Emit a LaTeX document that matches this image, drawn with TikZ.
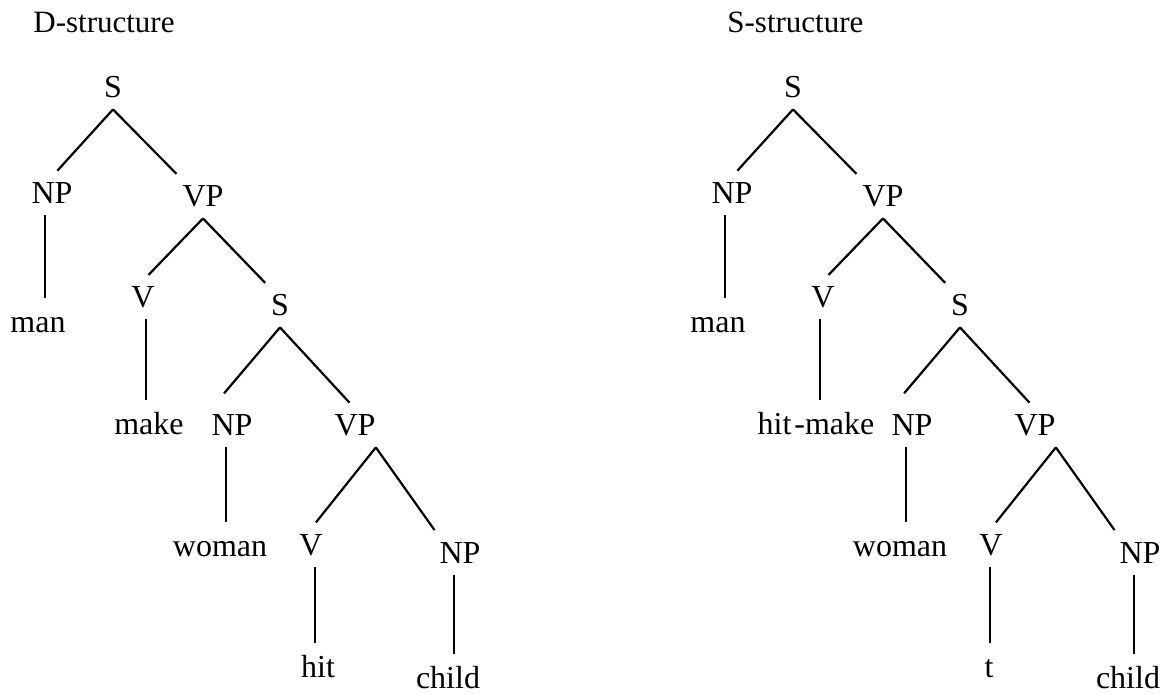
\documentclass[tikz,border=0pt]{standalone}
\usepackage{fontspec}
\setmainfont{Liberation Serif}
\usetikzlibrary{calc}
\tikzstyle{tag}=[anchor=base, inner xsep=0pt, inner ysep=6pt, text height=0.7em, text depth=0pt, font=\fontsize{16}{19}\selectfont]
\tikzstyle{head}=[anchor=base west, inner sep=0pt, font=\fontsize{15.5}{18}\selectfont]
\tikzstyle{branch}=[draw, line width=1.1pt, shorten >=4pt]
\newcommand{\stem}[2]{\draw[branch] let \p1=(#1.south), \p2=(#2.north) in ({0.5*round(\x1+\x2)*1pt},\y1) -- ({0.5*round(\x1+\x2)*1pt},\y2);}
\begin{document}
\begin{tikzpicture}[x=0.5pt, y=-0.5pt]

  \def\dx{680};
  \useasboundingbox (0,0) rectangle (1168,693);

  \node[head] (dhead) at (33,32) {D-structure};
  \node[head] (shead) at (727,32) {S-structure};

  % same categories in both trees
  \foreach \x/\y/\name/\label in {113/97/S0/S, 52/203/NP1/NP, 203/206/VP1/VP, 143/307/V1/V, 280/315/S2/S, 232/435/NP2/NP, 355/435/VP2/VP, 311/555/V2/V, 460/563/NP3/NP} {
    \node[tag] (l\name) at (\x,\y) {\label};
    \node[tag] (r\name) at (\x+\dx,\y) {\label};
  }

  % words
  \foreach \x/\y/\name/\label in {38/332/W1/man, 149/434/W2/make, 220/556/W3/woman, 318/677/W4/hit, 448/688/W5/child}
    \node[tag] (l\name) at (\x,\y) {\label};
  \foreach \x/\y/\name/\label in {718/332/W1/man, 816/434/W2/hit\kern1.5pt-make, 900/556/W3/woman, 989/677/W4/t, 1128/688/W5/child}
    \node[tag] (r\name) at (\x,\y) {\label};

  \foreach \side in {l,r} {
    \foreach \src/\sa/\dest/\da/\gap in {S0/south/NP1/north/4, S0/south/VP1/north west/4, VP1/south/V1/north/4, VP1/south/S2/north west/4, S2/south/NP2/north west/10, S2/south/VP2/north/4, VP2/south east/V2/north/4, VP2/south east/NP3/north west/4}
      \draw[branch, shorten >=\gap pt] (\side\src.\sa) -- (\side\dest.\da);
    \foreach \src/\dest in {NP1/W1, V1/W2, NP2/W3, V2/W4, NP3/W5}
      {\stem{\side\src}{\side\dest}}
  }

\end{tikzpicture}
\end{document}
